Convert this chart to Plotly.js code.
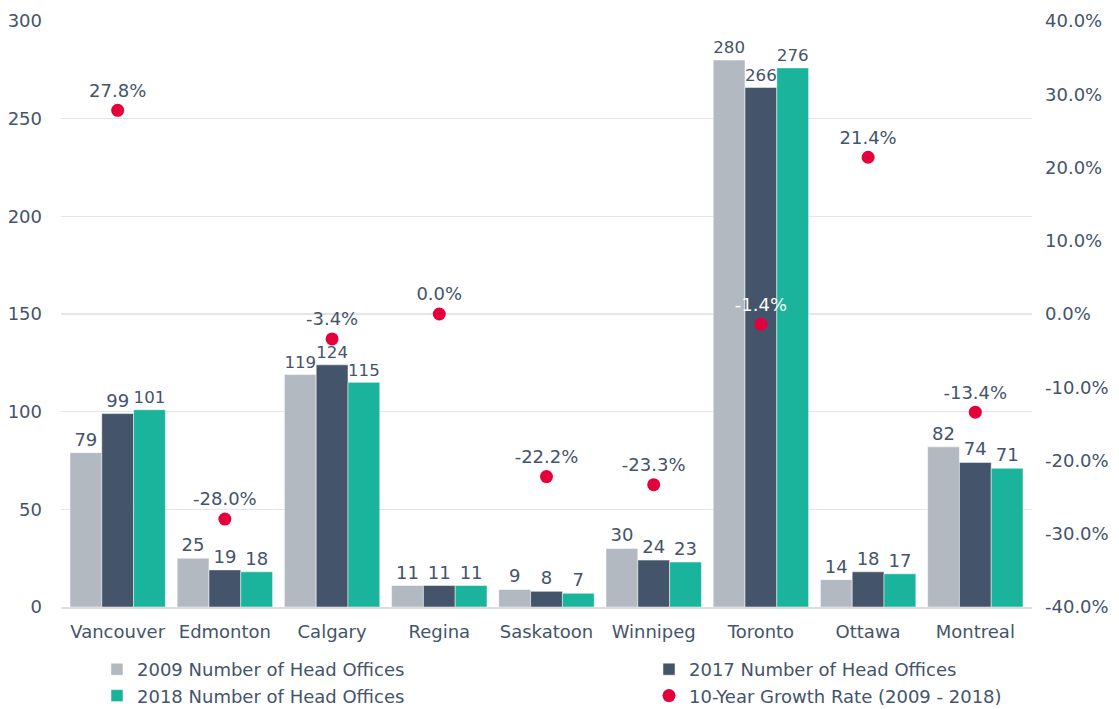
<!DOCTYPE html>
<html>
<head>
<meta charset="utf-8">
<script src="https://cdn.plot.ly/plotly-3.0.1.min.js"></script>
<style>html,body{margin:0;padding:0;background:#fff;}#chart{width:1119px;height:709px;}</style>
</head>
<body>
<div id="chart"></div>
<script>
const cities = ["Vancouver","Edmonton","Calgary","Regina","Saskatoon","Winnipeg","Toronto","Ottawa","Montreal"];
const offices2009 = [79,25,119,11,9,30,280,14,82];
const offices2017 = [99,19,124,11,8,24,266,18,74];
const offices2018 = [101,18,115,11,7,23,276,17,71];
const growth = [0.278,-0.28,-0.034,0.0,-0.222,-0.233,-0.014,0.214,-0.134];
const growthLabels = ["27.8%","-28.0%","-3.4%","0.0%","-22.2%","-23.3%","-1.4%","21.4%","-13.4%"];
const leftTicks = [0,50,100,150,200,250,300];
const rightTicks = [-0.4,-0.3,-0.2,-0.1,0,0.1,0.2,0.3,0.4];
const rightTickText = ["-40.0%","-30.0%","-20.0%","-10.0%","0.0%","10.0%","20.0%","30.0%","40.0%"];

const txtColor = "#44546a";
const fontFam = "DejaVu Sans, Verdana, sans-serif";
const fs = 18;

function barTrace(name, vals, color, legend){
  return {
    type:"bar", name:name, x:cities, y:vals, legend:legend,
    text: vals.map(String), textposition:"outside", cliponaxis:false,
    textfont:{family:fontFam,size:fs,color:txtColor},
    marker:{color:color, line:{color:"#ffffff", width:0.5}},
    hoverinfo:"y"
  };
}

const traces = [
  barTrace("2009 Number of Head Offices", offices2009, "#b3b9c1", "legend"),
  barTrace("2017 Number of Head Offices", offices2017, "#44546a", "legend2"),
  barTrace("2018 Number of Head Offices", offices2018, "#1ab39b", "legend"),
  {
    type:"scatter", mode:"markers+text", name:"10-Year Growth Rate (2009 - 2018)", legend:"legend2",
    x:cities, y:growth, yaxis:"y2",
    text:growthLabels, textposition:"top center", cliponaxis:false,
    textfont:{family:fontFam,size:fs,color:growthLabels.map((t,i)=>cities[i]==="Toronto"?"#ffffff":txtColor)},
    marker:{color:"#e4003b", size:13}
  }
];

const legCommon = {orientation:"v", xref:"container", yref:"container", xanchor:"left", yanchor:"top",
  y:1-651/709, traceorder:"normal", tracegroupgap:0, itemwidth:30, bgcolor:"rgba(0,0,0,0)",
  font:{family:fontFam,size:fs,color:txtColor}};

const layout = {
  width:1119, height:709,
  margin:{l:61,r:87,t:21,b:102, autoexpand:false},
  paper_bgcolor:"#ffffff", plot_bgcolor:"#ffffff",
  font:{family:fontFam,size:fs,color:txtColor},
  barmode:"group", bargap:0.11, bargroupgap:0,
  showlegend:true,
  legend:Object.assign({}, legCommon, {x:97/1119}),
  legend2:Object.assign({}, legCommon, {x:649/1119}),
  xaxis:{showgrid:false, showline:true, linecolor:"#d9dce3", linewidth:1.5, ticks:"", ticklabelstandoff:8, tickfont:{size:fs}},
  yaxis:{range:[0,300], tickvals:leftTicks, ticktext:leftTicks.map(String), showgrid:true, gridcolor:"#e3e5ea", gridwidth:1.5,
    zeroline:false, ticks:"", ticklabelstandoff:18, tickfont:{size:fs}},
  yaxis2:{range:[-0.4,0.4], overlaying:"y", side:"right", tickvals:rightTicks, ticktext:rightTickText,
    showgrid:false, zeroline:false, ticks:"", ticklabelstandoff:12, tickfont:{size:fs}}
};

Plotly.newPlot("chart", traces, layout, {displayModeBar:false, staticPlot:true});
</script>
</body>
</html>
